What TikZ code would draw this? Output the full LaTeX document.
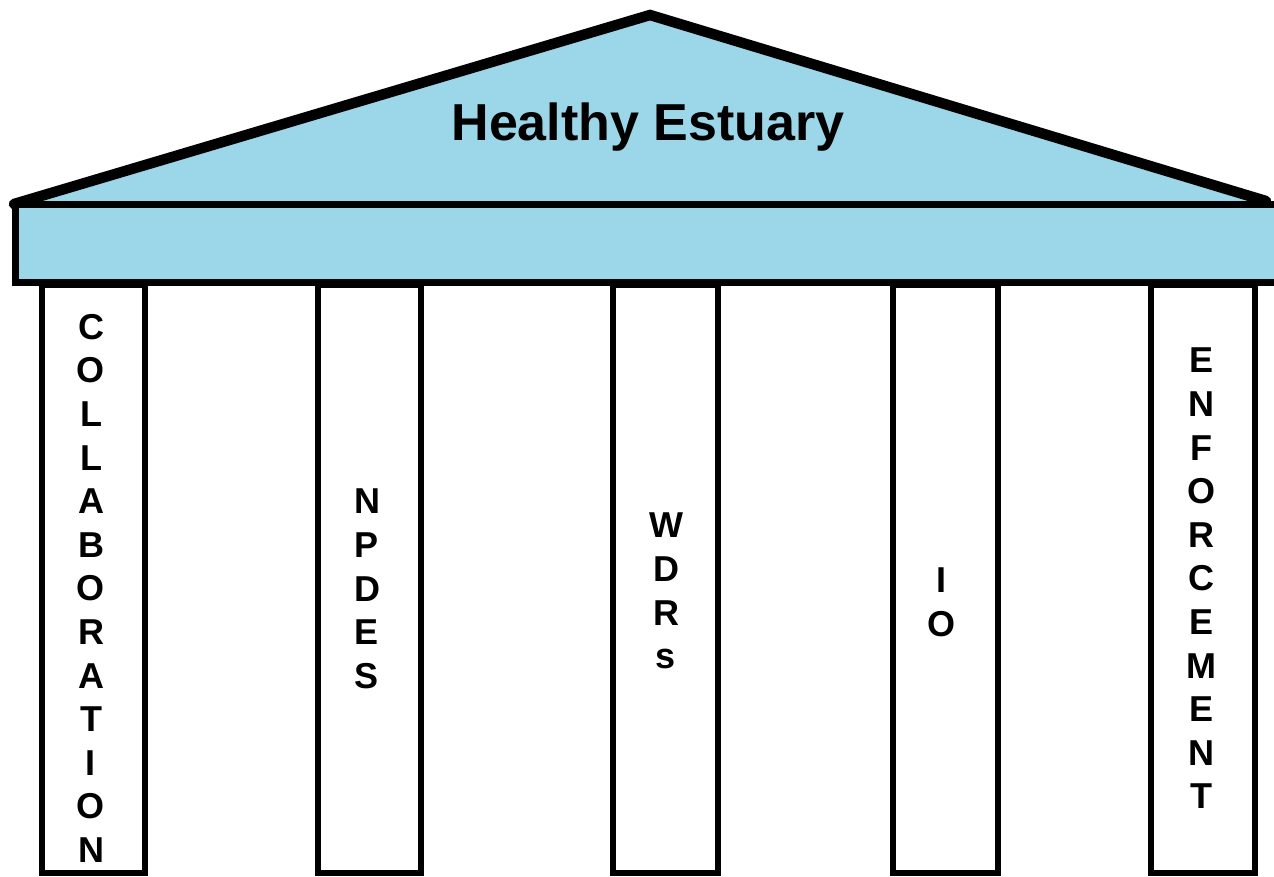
\documentclass[tikz,border=0pt]{standalone}
\usepackage{fontspec}
\setmainfont{Liberation Sans}
\definecolor{roofblue}{RGB}{155,215,232}
\begin{document}
\begin{tikzpicture}[x=1pt,y=-1pt,
  roofline/.style={line width=10.5pt, line join=miter, line cap=round},
  beamline/.style={fill=roofblue, line width=7pt},
  pillar/.style={fill=white, line width=6pt},
  titletext/.style={font=\bfseries\fontsize{52}{60}\selectfont, inner sep=0pt},
  pillartext/.style={font=\bfseries\fontsize{36}{43.6}\selectfont, align=center, inner sep=0pt, anchor=north}]
\useasboundingbox (0,0) rectangle (1274,876);
\fill[white] (0,0) rectangle (1274,876);
\clip (0,0) rectangle (1274,876);
% roof
\fill[roofblue] (14,204) -- (650,15) -- (1266,201) -- cycle;
\draw[roofline] (14,204) -- (650,15) -- (1266,201);
% beam
\draw[beamline] (15,204) rectangle (1300,282);
% pillars
\draw[pillar] (42,285) rectangle (145,873);
\draw[pillar] (318,285) rectangle (421,873);
\draw[pillar] (613,285) rectangle (718,873);
\draw[pillar] (893,285) rectangle (998,873);
\draw[pillar] (1151,285) rectangle (1255,873);
% texts
\node[titletext, anchor=base] (title) at (648,140) {Healthy Estuary};
\node[pillartext] (collab) at (91,314) {C\\O\\L\\L\\A\\B\\O\\R\\A\\T\\I\\O\\N};
\node[pillartext] (npdes) at (367,489) {N\\P\\D\\E\\S};
\node[pillartext] (wdrs) at (666,513) {W\\D\\R\\s};
\node[pillartext] (io) at (941,568) {I\\O};
\node[pillartext] (enf) at (1201,348) {E\\N\\F\\O\\R\\C\\E\\M\\E\\N\\T};
\end{tikzpicture}
\end{document}
